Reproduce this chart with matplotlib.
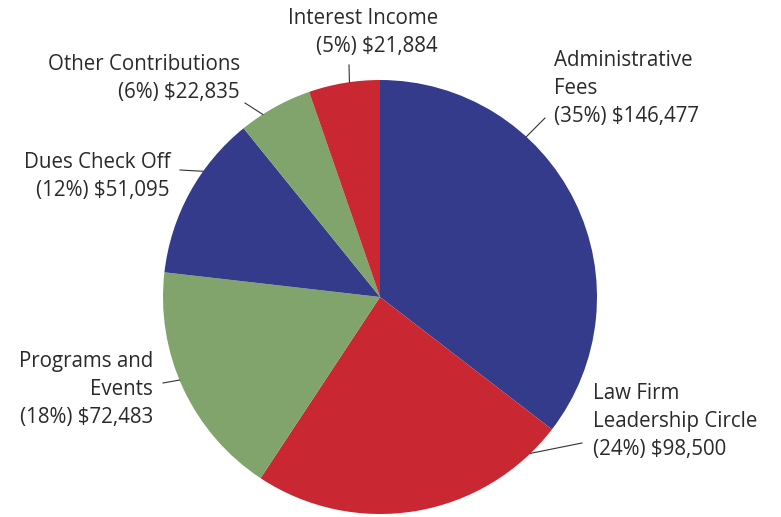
import numpy as np
import matplotlib
matplotlib.use("Agg")
import matplotlib.pyplot as plt

categories = ["Administrative\nFees", "Law Firm\nLeadership Circle", "Programs and\nEvents",
              "Dues Check Off", "Other Contributions", "Interest Income"]
values = [146477, 98500, 72483, 51095, 22835, 21884]
colors = ["#343B8A", "#C92832", "#80A46C", "#343B8A", "#80A46C", "#C92832"]

W, H = 781, 517
fig = plt.figure(figsize=(W / 100, H / 100), dpi=100)
ax = fig.add_axes([0, 0, 1, 1])
ax.set_xlim(0, W)
ax.set_ylim(0, H)
ax.axis("off")

cx, cy, R = 380, H - 297, 217
ax.pie(values, colors=colors, startangle=90, counterclock=False,
       center=(cx, cy), radius=R, wedgeprops=dict(linewidth=0))
ax.set_xlim(0, W)
ax.set_ylim(0, H)
ax.set_aspect("equal")

total = sum(values)
# layout: (text x, text top y in px, ha, leader outer point px, rim angle deg)
layout = [
    (554, 50, "left", (545, 118), 47.6),
    (593, 383, "left", (582, 443), -46.1),
    (153, 351, "right", (163, 383), 202.5),
    (170, 152, "right", (180, 170), 144.6),
    (240, 54, "right", (245, 103), 122.7),
    (438, 8, "right", (349, 65), 98.1),
]
txtcolor = "#2a2a2a"
for cat, v, (tx, ty, ha, outer, ang) in zip(categories, values, layout):
    pct = round(100 * v / total)
    label = f"{cat}\n({pct}%) ${v:,}"
    ax.text(tx, H - ty, label, ha=ha, va="top", fontsize=14.8,
            family=["Open Sans", "DejaVu Sans"], color=txtcolor, linespacing=1.45,
            multialignment=ha)
    a = np.deg2rad(ang)
    rx, ry = cx + R * np.cos(a), cy + R * np.sin(a)
    ax.plot([outer[0], rx], [H - outer[1], ry], color="#333333", lw=0.8)

fig.savefig("out.png", dpi=100)
